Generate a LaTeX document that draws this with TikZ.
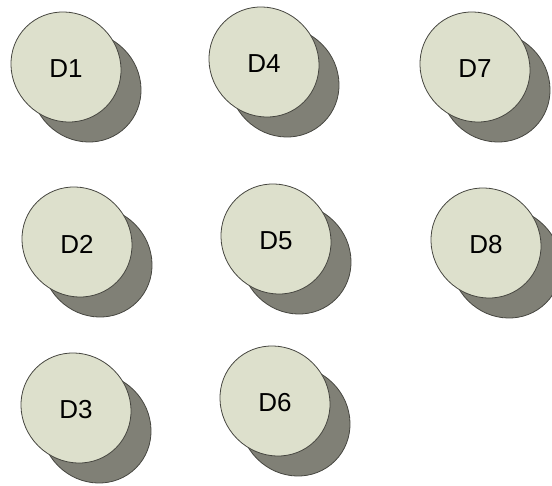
\documentclass[tikz,border=0pt]{standalone}
\usepackage{fontspec}
\setmainfont{Liberation Sans}
\definecolor{diskfill}{RGB}{221,224,204}
\definecolor{diskshade}{RGB}{128,128,118}
\definecolor{diskline}{RGB}{70,70,64}

\begin{document}
\begin{tikzpicture}[x=1pt,y=-1pt,
  disk/.style={circle, minimum size=110pt, inner sep=0pt,
    font=\fontsize{26}{30}\selectfont},
  rim/.style={draw=diskline, line width=0.8pt}]
 \useasboundingbox (0,0) rectangle (552,486);

 %disks: name/x/y
 \foreach \name/\px/\py in {1/66/67, 4/264/62, 7/475/67,
                            2/77/242, 5/276/239, 8/486/243,
                            3/76/408, 6/275/401}{
   % shadow, then the tilted face
   \filldraw[rim, fill=diskshade] (\px+20,\py+20) ellipse[x radius=56.5, y radius=53.5, rotate=-45];
   \filldraw[rim, fill=diskfill] (\px,\py) ellipse[x radius=56.5, y radius=53.5, rotate=-45];
   \node[disk] (d\name) at (\px,\py+2) {D\name};
 }
\end{tikzpicture}
\end{document}
